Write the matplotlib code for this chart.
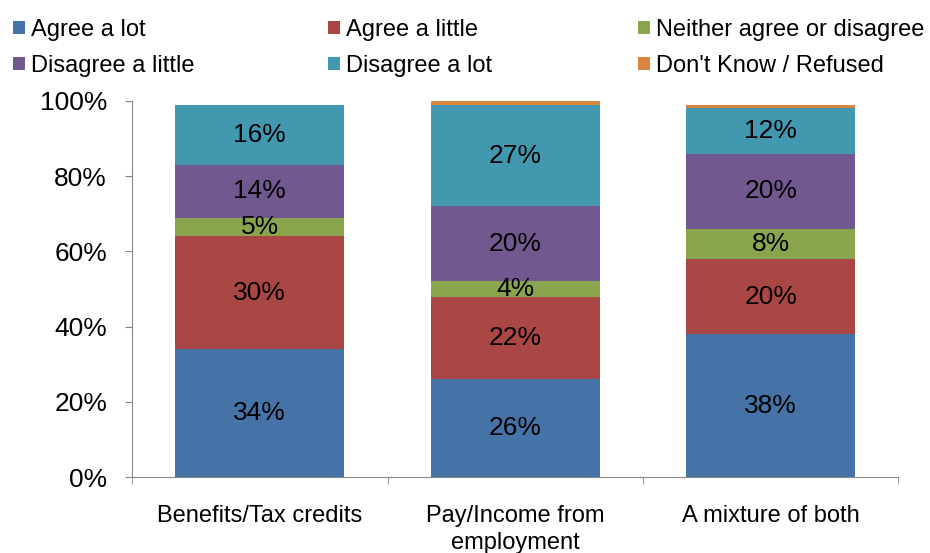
import matplotlib.pyplot as plt
import numpy as np

plt.rcParams['font.family'] = ['Liberation Sans', 'DejaVu Sans']

categories = ["Benefits/Tax credits", "Pay/Income from\nemployment", "A mixture of both"]
series_names = ["Agree a lot", "Agree a little", "Neither agree or disagree",
                "Disagree a little", "Disagree a lot", "Don't Know / Refused"]
agree_lot = [34, 26, 38]
agree_little = [30, 22, 20]
neither = [5, 4, 8]
disagree_little = [14, 20, 20]
disagree_lot = [16, 27, 12]
dont_know = [0, 1, 1]

colors = ["#4572A7", "#AA4643", "#89A54E", "#71588F", "#4198AF", "#DB843D"]

series = [agree_lot, agree_little, neither, disagree_little, disagree_lot, dont_know]

fig = plt.figure(figsize=(9.3, 5.53), dpi=100)
ax = fig.add_axes([0.142, 0.1374, 0.824, 0.68])

x = np.arange(len(categories))
bottom = np.zeros(len(categories))
handles = []
for name, vals, col in zip(series_names, series, colors):
    vals = np.array(vals, dtype=float)
    h = ax.bar(x, vals, 0.66, bottom=bottom, color=col, label=name)
    handles.append(h)
    if name != "Don't Know / Refused":
        for xi, b, v in zip(x, bottom, vals):
            ax.text(xi, b + v / 2, f"{v:.0f}%", ha="center", va="center",
                    fontsize=19, color="black")
    bottom += vals

ax.set_xlim(-0.5, 2.5)
ax.set_ylim(0, 100)
ax.set_yticks(np.arange(0, 101, 20))
ax.set_yticklabels([f"{t}%" for t in range(0, 101, 20)], fontsize=19)
ax.set_xticks(x)
ax.set_xticklabels(categories, fontsize=17, linespacing=1.3)
ax.set_xticks([-0.5, 0.5, 1.5, 2.5], minor=True)
ax.tick_params(axis="x", which="major", length=0, pad=20)
ax.tick_params(axis="x", which="minor", length=5, color="#888888")
ax.tick_params(axis="y", length=5, color="#888888", pad=13)
for s in ["top", "right"]:
    ax.spines[s].set_visible(False)
for s in ["left", "bottom"]:
    ax.spines[s].set_color("#888888")

# legend laid out row by row, one small legend per column
col_x = [0.0015, 0.3405, 0.6735]
for c in range(3):
    idx = [c, c + 3]
    leg = fig.legend(handles=[handles[i] for i in idx],
                     labels=[series_names[i] for i in idx],
                     loc="upper left", bbox_to_anchor=(col_x[c], 0.987),
                     frameon=False, fontsize=17, handlelength=0.5,
                     handleheight=0.5, handletextpad=0.25,
                     labelspacing=0.58, borderaxespad=0.3, borderpad=0.2)

fig.savefig("out.png", dpi=100)
